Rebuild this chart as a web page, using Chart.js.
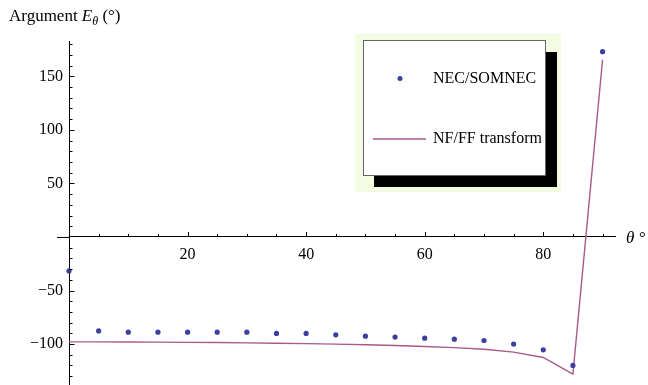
<!DOCTYPE html>
<html>
<head>
<meta charset="utf-8">
<script src="https://cdn.jsdelivr.net/npm/chart.js@4/dist/chart.umd.min.js"></script>
<style>
  html, body { margin: 0; padding: 0; background: #fff; }
  #wrap { width: 648px; height: 385px; }
</style>
</head>
<body>
<div id="wrap"><canvas id="myChart"></canvas></div>
<script>
// theta in degrees
const theta = [0, 5, 10, 15, 20, 25, 30, 35, 40, 45, 50, 55, 60, 65, 70, 75, 80, 85, 90];
// argument of E_theta, NEC/SOMNEC points
const necValues = [-31.7, -87.7, -88.9, -88.9, -88.9, -88.9, -88.9, -90.1, -90.1, -91.4, -92.6, -93.5, -94.5, -95.4, -96.7, -100, -105.4, -120, 173];
// NF/FF transform curve
const nfffValues = [-98, -98, -98.1, -98.2, -98.4, -98.6, -98.9, -99.2, -99.6, -100.1, -100.7, -101.4, -102.3, -103.3, -104.8, -107.5, -112.5, -128, 165.5];
const xTickLabels = [20, 40, 60, 80];
const yTickLabels = [-100, -50, 50, 100, 150];

const dotColor = "#3c3f9c";
const lineColor = "#a85a88";
const serif = "'Liberation Serif', 'DejaVu Serif', serif";

const toPoints = (xs, ys) => xs.map((x, i) => ({ x: x, y: ys[i] }));
const minus = (v) => (v < 0 ? "\u2212" + Math.abs(v) : String(v));

// inward ticks like mathematica + title + legend box
const decorPlugin = {
  id: "decor",
  afterDraw(chart) {
    const ctx = chart.ctx;
    const xs = chart.scales.x;
    const ys = chart.scales.y;
    const x0 = xs.getPixelForValue(0);
    const y0 = ys.getPixelForValue(0);
    const axisX = Math.round(x0 - 0.5) + 0.5;
    ctx.save();
    ctx.strokeStyle = "#000";
    ctx.lineWidth = 1;
    ctx.beginPath();
    // x axis stub left of the y axis, y axis down to the edge
    ctx.moveTo(x0 - 12, y0 + 0.5);
    ctx.lineTo(x0, y0 + 0.5);
    ctx.moveTo(axisX, chart.chartArea.bottom - 1);
    ctx.lineTo(axisX, chart.height);
    for (let v = -130; v <= 180; v += 10) {
      if (v === 0) continue;
      const p = Math.round(ys.getPixelForValue(v)) + 0.5;
      const len = v % 50 === 0 ? 5 : 3;
      ctx.moveTo(axisX, p);
      ctx.lineTo(axisX + len, p);
    }
    for (let v = 5; v <= 90; v += 5) {
      const p = Math.round(xs.getPixelForValue(v)) + 0.5;
      const len = v % 20 === 0 ? 5 : 3;
      ctx.moveTo(p, y0);
      ctx.lineTo(p, y0 - len);
    }
    ctx.stroke();

    // axis titles
    ctx.fillStyle = "#000";
    ctx.textBaseline = "alphabetic";
    ctx.textAlign = "left";
    let tx = 9;
    ctx.font = "17px " + serif;
    ctx.fillText("Argument ", tx, 21);
    tx += ctx.measureText("Argument ").width;
    ctx.font = "italic 17px " + serif;
    ctx.fillText("E", tx, 21);
    tx += ctx.measureText("E").width;
    ctx.font = "italic 12px " + serif;
    ctx.fillText("\u03b8", tx, 25);
    tx += ctx.measureText("\u03b8").width;
    ctx.font = "17px " + serif;
    ctx.fillText(" (\u00b0)", tx, 21);

    ctx.font = "italic 17px " + serif;
    ctx.fillText("\u03b8", 626, y0 + 6);
    ctx.font = "17px " + serif;
    ctx.fillText("\u00b0", 639, y0 + 6);

    // legend
    ctx.fillStyle = "#f4fbe3";
    ctx.fillRect(355, 34, 206, 158);
    ctx.fillStyle = "#000";
    ctx.fillRect(374, 52, 183, 135);
    ctx.fillStyle = "#fff";
    ctx.fillRect(363, 40, 183, 136);
    ctx.strokeStyle = "#666";
    ctx.strokeRect(363.5, 40.5, 182, 135);

    ctx.fillStyle = dotColor;
    ctx.beginPath();
    ctx.arc(400, 78.5, 2.5, 0, Math.PI * 2);
    ctx.fill();
    ctx.strokeStyle = lineColor;
    ctx.lineWidth = 1.5;
    ctx.beginPath();
    ctx.moveTo(373, 139);
    ctx.lineTo(426, 139);
    ctx.stroke();

    ctx.fillStyle = "#000";
    ctx.font = "16px " + serif;
    ctx.textBaseline = "middle";
    ctx.fillText("NEC/SOMNEC", 433, 79);
    ctx.fillText("NF/FF transform", 433, 139);
    ctx.restore();
  },
};

const ctx = document.getElementById("myChart").getContext("2d");
const myChart = new Chart(ctx, {
  type: "scatter",
  data: {
    datasets: [
      {
        label: "NEC/SOMNEC",
        data: toPoints(theta, necValues),
        pointRadius: 2.6,
        pointBackgroundColor: dotColor,
        pointBorderWidth: 0,
        showLine: false,
        clip: false,
      },
      {
        label: "NF/FF transform",
        data: toPoints(theta, nfffValues),
        showLine: true,
        pointRadius: 0,
        borderColor: lineColor,
        borderWidth: 1.4,
        tension: 0,
        clip: false,
      },
    ],
  },
  options: {
    responsive: true,
    maintainAspectRatio: false,
    animation: false,
    layout: { padding: { top: 41, bottom: 0, left: 0, right: 33 } },
    plugins: {
      legend: { display: false },
      tooltip: { enabled: false },
    },
    scales: {
      x: {
        type: "linear",
        min: 0,
        max: 92.1,
        position: { y: 0 },
        afterFit: (s) => {
          s.height = 0;
          s.paddingLeft = 0;
          s.paddingRight = 0;
          s.paddingTop = 0;
          s.paddingBottom = 0;
        },
        grid: { display: false, drawTicks: false },
        border: { display: true, color: "#000", width: 1 },
        ticks: {
          stepSize: 5,
          autoSkip: false,
          maxRotation: 0,
          padding: 8,
          color: "#000",
          font: { family: serif, size: 16 },
          callback: (v) => (xTickLabels.includes(v) ? String(v) : null),
        },
      },
      y: {
        type: "linear",
        min: -134.5,
        max: 183,
        position: "left",
        afterFit: (s) => {
          s.width = 69;
          s.paddingTop = 0;
          s.paddingBottom = 0;
        },
        grid: { display: false, drawTicks: false },
        border: { display: true, color: "#000", width: 1 },
        ticks: {
          stepSize: 10,
          autoSkip: false,
          padding: 6,
          color: "#000",
          font: { family: serif, size: 16 },
          callback: (v) => (yTickLabels.includes(v) ? minus(v) : null),
        },
      },
    },
  },
  plugins: [decorPlugin],
});
</script>
</body>
</html>
